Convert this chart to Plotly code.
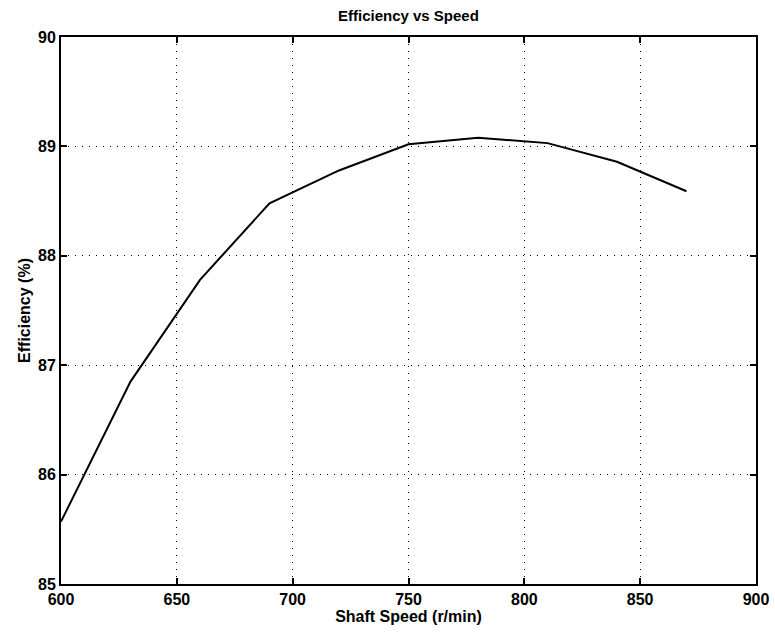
import plotly.graph_objects as go

speed = [600, 630, 660, 690, 720, 750, 780, 810, 840, 870]
efficiency = [85.57, 86.85, 87.78, 88.48, 88.78, 89.02, 89.08, 89.03, 88.86, 88.59]

x_ticks = [600, 650, 700, 750, 800, 850, 900]
y_ticks = [85, 86, 87, 88, 89, 90]

fig = go.Figure()
fig.add_trace(go.Scatter(x=speed, y=efficiency, mode="lines",
                         line=dict(color="black", width=2), showlegend=False))

font = dict(family="Liberation Sans, Arial, sans-serif", color="black")
axis_common = dict(showline=True, linecolor="black", linewidth=2, mirror="allticks",
                   ticks="inside", ticklen=6, tickcolor="black", tickwidth=1.5,
                   showgrid=True, gridcolor="black", griddash="1px,6px", gridwidth=1.3,
                   zeroline=False, automargin=False, tickfont=dict(size=16, **font))

fig.update_layout(
    width=775, height=637,
    margin=dict(l=61, r=19, t=37, b=53),
    paper_bgcolor="white", plot_bgcolor="white",
    title=dict(text="<b>Efficiency vs Speed</b>", x=0.527, xanchor="center", y=0.975, yanchor="middle",
               xref="container", font=dict(size=15, **font)),
    xaxis=dict(range=[600, 900], tickvals=x_ticks,
               ticktext=[f"<b>{v}</b>" for v in x_ticks],
               title=dict(text="<b>Shaft Speed (r/min)</b>", font=dict(size=16, **font), standoff=0),
               **axis_common),
    yaxis=dict(range=[85, 90], tickvals=y_ticks,
               ticktext=[f"<b>{v}</b>" for v in y_ticks],
               title=dict(text="<b>Efficiency (%)</b>", font=dict(size=16, **font), standoff=3),
               **axis_common),
)

fig.write_html("out.html")
